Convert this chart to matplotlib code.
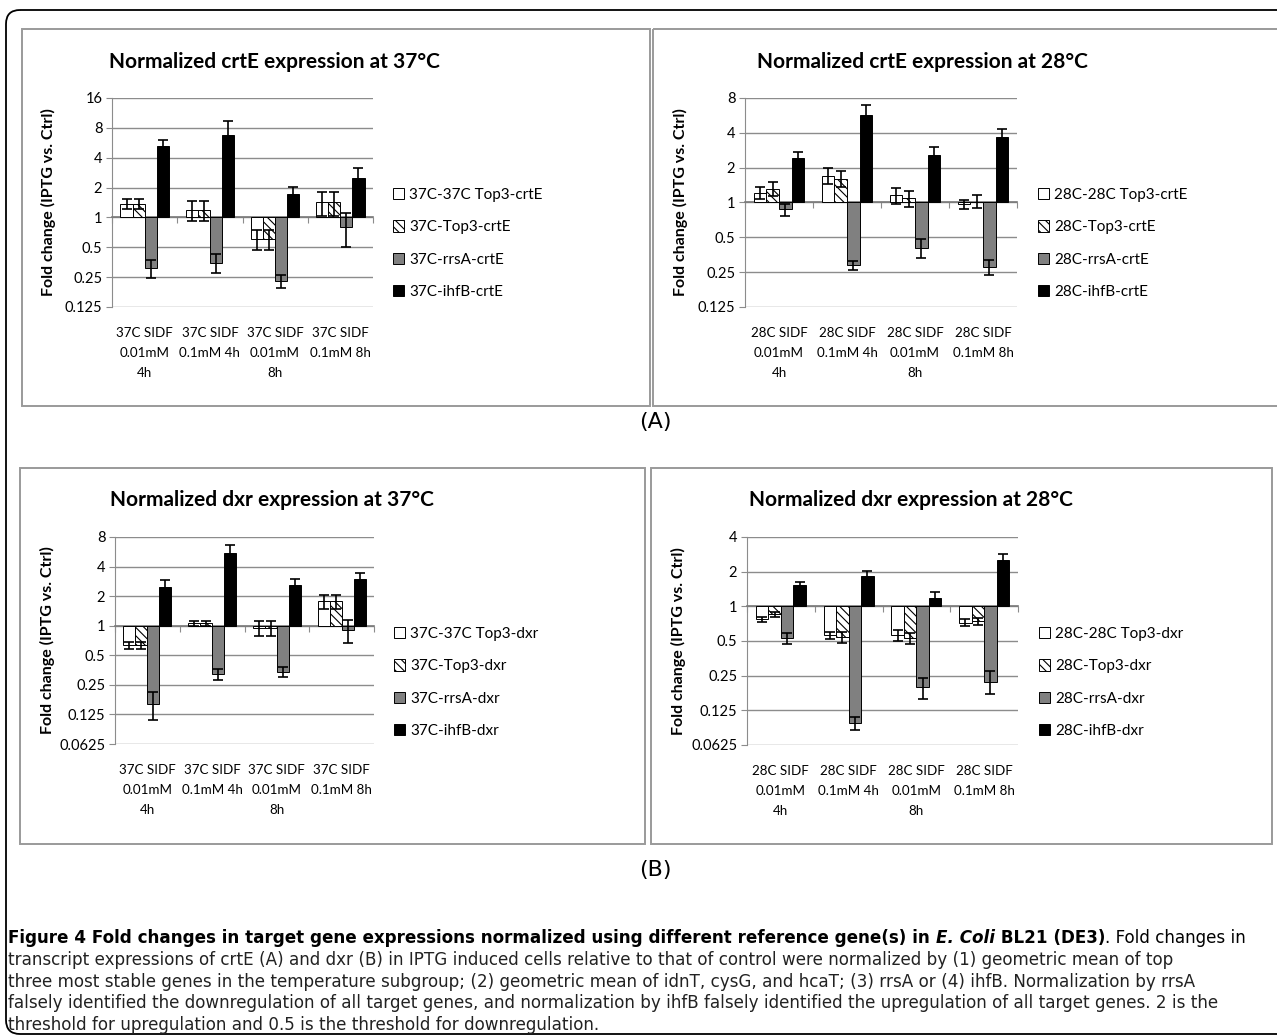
import matplotlib
matplotlib.use("Agg")
import matplotlib.pyplot as plt
from matplotlib.patches import Rectangle, FancyBboxPatch, Patch
from matplotlib import transforms
import numpy as np

plt.rcParams["font.family"] = ["Lato", "DejaVu Sans"]
plt.rcParams["hatch.linewidth"] = 0.8

W, H = 1277, 1035

groups37 = ["37C SIDF\n0.01mM\n4h", "37C SIDF\n0.1mM 4h", "37C SIDF\n0.01mM\n8h", "37C SIDF\n0.1mM 8h"]
groups28 = ["28C SIDF\n0.01mM\n4h", "28C SIDF\n0.1mM 4h", "28C SIDF\n0.01mM\n8h", "28C SIDF\n0.1mM 8h"]

crte37_labels = ["37C-37C Top3-crtE", "37C-Top3-crtE", "37C-rrsA-crtE", "37C-ihfB-crtE"]
crte37_mean = [
    [1.37, 1.19, 0.61, 1.43],
    [1.37, 1.19, 0.61, 1.43],
    [0.31, 0.35, 0.23, 0.80],
    [5.3, 6.8, 1.72, 2.5],
]
crte37_err = [
    [0.16, 0.28, 0.14, 0.39],
    [0.16, 0.28, 0.14, 0.39],
    [0.065, 0.075, 0.035, 0.30],
    [0.8, 2.5, 0.31, 0.65],
]

crte28_labels = ["28C-28C Top3-crtE", "28C-Top3-crtE", "28C-rrsA-crtE", "28C-ihfB-crtE"]
crte28_mean = [
    [1.22, 1.71, 1.16, 0.97],
    [1.32, 1.61, 1.09, 1.02],
    [0.87, 0.287, 0.405, 0.277],
    [2.44, 5.75, 2.55, 3.68],
]
crte28_err = [
    [0.15, 0.26, 0.18, 0.09],
    [0.18, 0.26, 0.17, 0.13],
    [0.11, 0.025, 0.075, 0.04],
    [0.31, 1.15, 0.45, 0.6],
]

dxr37_labels = ["37C-37C Top3-dxr", "37C-Top3-dxr", "37C-rrsA-dxr", "37C-ihfB-dxr"]
dxr37_mean = [
    [0.635, 1.065, 0.95, 1.77],
    [0.635, 1.065, 0.95, 1.77],
    [0.159, 0.32, 0.34, 0.91],
    [2.5, 5.5, 2.6, 3.0],
]
dxr37_err = [
    [0.055, 0.06, 0.17, 0.28],
    [0.055, 0.06, 0.17, 0.28],
    [0.05, 0.04, 0.04, 0.24],
    [0.45, 1.2, 0.4, 0.45],
]

dxr28_labels = ["28C-28C Top3-dxr", "28C-Top3-dxr", "28C-rrsA-dxr", "28C-ihfB-dxr"]
dxr28_mean = [
    [0.77, 0.56, 0.56, 0.72],
    [0.85, 0.54, 0.53, 0.74],
    [0.53, 0.097, 0.198, 0.222],
    [1.53, 1.85, 1.18, 2.54],
]
dxr28_err = [
    [0.04, 0.04, 0.06, 0.05],
    [0.05, 0.06, 0.06, 0.05],
    [0.06, 0.013, 0.04, 0.05],
    [0.11, 0.19, 0.14, 0.32],
]

yticks_crte37 = [0.125, 0.25, 0.5, 1, 2, 4, 8, 16]
yticks_crte28 = [0.125, 0.25, 0.5, 1, 2, 4, 8]
yticks_dxr37 = [0.0625, 0.125, 0.25, 0.5, 1, 2, 4, 8]
yticks_dxr28 = [0.0625, 0.125, 0.25, 0.5, 1, 2, 4]

FACE = ["white", "white", "#808080", "black"]
HATCH = [None, "\\\\\\\\", None, None]
GRID = "#8c8c8c"


def px_rect(x0, y0, x1, y1):
    return [x0 / W, 1 - y1 / H, (x1 - x0) / W, (y1 - y0) / H]


def draw_panel(rect, title, title_xy, ylab_x, groups, labels, means, errs, yticks, leg_x, leg_y):
    ax = fig.add_axes(px_rect(*rect))
    ax.set_yscale("log", base=2)
    x = np.arange(len(groups))
    w = 0.185
    for i in range(4):
        m = np.array(means[i])
        ax.bar(x + (i - 1.5) * w, m - 1, bottom=1, width=w, color=FACE[i],
               hatch=HATCH[i], edgecolor="black", linewidth=0.7, zorder=3)
        ax.errorbar(x + (i - 1.5) * w, m, yerr=errs[i], fmt="none", ecolor="black",
                    elinewidth=1.2, capsize=3.5, capthick=1.2, zorder=4)
    ax.set_ylim(yticks[0], yticks[-1])
    ax.set_yticks(yticks)
    ax.set_yticklabels([f"{t:g}" for t in yticks])
    ax.yaxis.set_minor_locator(matplotlib.ticker.NullLocator())
    ax.grid(axis="y", color=GRID, linewidth=1.0, zorder=0)
    ax.set_xlim(-0.5, 3.5)
    ax.set_xticks(np.arange(-0.5, 4, 1))
    ax.set_xticklabels([])
    ax.tick_params(axis="x", direction="out", length=4, color=GRID)
    ax.tick_params(axis="y", length=4, color=GRID, labelsize=10.5, pad=3)
    for s in ["top", "right"]:
        ax.spines[s].set_visible(False)
    ax.spines["left"].set_color(GRID)
    ax.spines["bottom"].set_color("#7a7a7a")
    ax.spines["bottom"].set_linewidth(1.2)
    ax.spines["bottom"].set_position(("data", 1))
    trans = transforms.blended_transform_factory(ax.transData, ax.transAxes)
    for i, g in enumerate(groups):
        ax.text(i, -0.095, g, transform=trans, ha="center", va="top", fontsize=9.6,
                linespacing=1.8)
    ov.text(title_xy[0], title_xy[1], title, ha="center", va="center",
            fontsize=15, fontweight="bold")
    ov.text(ylab_x, (rect[1] + rect[3]) / 2, "Fold change (IPTG vs. Ctrl)", rotation=90,
            ha="center", va="center", fontsize=11.5, fontweight="bold")
    handles = [Patch(facecolor=FACE[i], hatch=HATCH[i], edgecolor="black", linewidth=0.7)
               for i in range(4)]
    fig.legend(handles, labels, loc="upper left",
               bbox_to_anchor=(leg_x / W, 1 - leg_y / H), frameon=False,
               fontsize=11, handlelength=0.75, handleheight=0.75, handletextpad=0.3,
               labelspacing=1.2, borderpad=0, borderaxespad=0)
    return ax


fig = plt.figure(figsize=(W / 100, H / 100), dpi=100)
ov = fig.add_axes([0, 0, 1, 1], zorder=-1)
ov.set_xlim(0, W)
ov.set_ylim(H, 0)
ov.axis("off")

# outer rounded frame
ov.add_patch(FancyBboxPatch((6, 10), 1300, 1024, boxstyle="round,pad=0,rounding_size=14",
                            fill=False, edgecolor="black", linewidth=1.3))
# panel frames
for (x0, y0, x1, y1) in [(22, 29, 650, 406), (653, 29, 1290, 406),
                         (20, 468, 645, 844), (651, 468, 1272, 844)]:
    ov.add_patch(Rectangle((x0, y0), x1 - x0, y1 - y0, fill=False,
                           edgecolor="#9a9a9a", linewidth=1.4))

draw_panel((112, 98, 373, 307), "Normalized crtE expression at 37°C", (274, 62), 48,
           groups37, crte37_labels, crte37_mean, crte37_err, yticks_crte37, 393, 188)
draw_panel((745, 98, 1017, 307), "Normalized crtE expression at 28°C", (922, 62), 680,
           groups28, crte28_labels, crte28_mean, crte28_err, yticks_crte28, 1038, 188)
draw_panel((115, 537, 374, 744), "Normalized dxr expression at 37°C", (272, 500), 47,
           groups37, dxr37_labels, dxr37_mean, dxr37_err, yticks_dxr37, 394, 627)
draw_panel((747, 537, 1018, 745), "Normalized dxr expression at 28°C", (911, 500), 678,
           groups28, dxr28_labels, dxr28_mean, dxr28_err, yticks_dxr28, 1039, 627)

ov.text(655, 422, "(A)", ha="center", va="center", fontsize=16, family="DejaVu Sans")
ov.text(655, 870, "(B)", ha="center", va="center", fontsize=16, family="DejaVu Sans")

# caption
cap_fs = 12.1
cap_font = "DejaVu Sans"
t = ov.text(8, 943, "Figure 4 Fold changes in target gene expressions normalized using different reference gene(s) in ",
            fontsize=cap_fs, fontweight="bold", va="baseline", family=cap_font)
t = ov.annotate("E. Coli", xy=(1, 0), xycoords=t, va="bottom", fontsize=cap_fs,
                fontweight="bold", fontstyle="italic", family=cap_font)
t = ov.annotate(" BL21 (DE3)", xy=(1, 0), xycoords=t, va="bottom", fontsize=cap_fs,
                fontweight="bold", family=cap_font)
t = ov.annotate(". Fold changes in", xy=(1, 0), xycoords=t, va="bottom", fontsize=cap_fs,
                family=cap_font)
caption_lines = [
    "transcript expressions of crtE (A) and dxr (B) in IPTG induced cells relative to that of control were normalized by (1) geometric mean of top",
    "three most stable genes in the temperature subgroup; (2) geometric mean of idnT, cysG, and hcaT; (3) rrsA or (4) ihfB. Normalization by rrsA",
    "falsely identified the downregulation of all target genes, and normalization by ihfB falsely identified the upregulation of all target genes. 2 is the",
    "threshold for upregulation and 0.5 is the threshold for downregulation.",
]
for k, line in enumerate(caption_lines):
    ov.text(8, 965 + 21.6 * k, line, fontsize=cap_fs, va="baseline", color="#222222",
            family=cap_font)

fig.savefig("out.png", dpi=100)
